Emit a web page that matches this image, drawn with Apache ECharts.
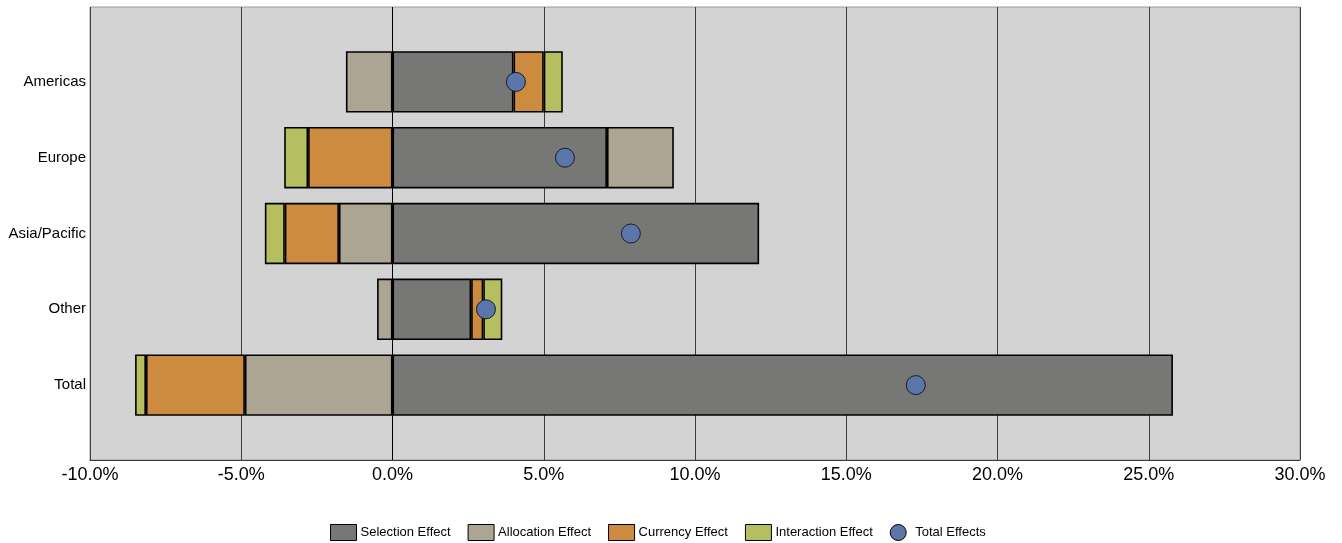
<!DOCTYPE html>
<html>
<head>
<meta charset="utf-8">
<script src="https://cdn.jsdelivr.net/npm/echarts@6/dist/echarts.min.js"></script>
<style>
  html, body { margin: 0; padding: 0; background: #ffffff; }
  #chart { width: 1342px; height: 543px; }
</style>
</head>
<body>
<div id="chart"></div>
<script>
// Attribution effects by region, in percent
const regions = ['Americas', 'Europe', 'Asia/Pacific', 'Other', 'Total'];
const selectionEffect   = [4.0, 7.09, 12.12, 2.6, 25.8];
const allocationEffect  = [-1.54, 2.21, -1.77, -0.51, -4.88];
const currencyEffect    = [1.0, -2.79, -1.79, 0.4, -3.27];
const interactionEffect = [0.63, -0.79, -0.66, 0.63, -0.36];
const totalEffects      = [4.08, 5.7, 7.88, 3.09, 17.3];
const xTicks = [-10, -5, 0, 5, 10, 15, 20, 25, 30];

const FONT = '"Liberation Sans", Arial, sans-serif';
const colors = {
  selection: '#777775',
  allocation: '#ada594',
  currency: '#cd8b40',
  interaction: '#b5bf5f',
  total: '#5b76a8'
};

function barSeries(name, data, color) {
  return {
    name: name,
    type: 'bar',
    stack: 'effects',
    xAxisIndex: 1,
    yAxisIndex: 1,
    barCategoryGap: '19%',
    data: data,
    itemStyle: { color: color, borderColor: '#000000', borderWidth: 1.6 },
    emphasis: { disabled: true }
  };
}

const chart = echarts.init(document.getElementById('chart'), null, { renderer: 'canvas' });
chart.setOption({
  animation: false,
  backgroundColor: '#ffffff',
  textStyle: { fontFamily: FONT },
  grid: [
    // plot frame with ticks and grid lines
    { left: 90, right: 42, top: 7, bottom: 83, show: true,
      backgroundColor: '#d3d3d3', borderColor: '#9a9a9a', borderWidth: 1 },
    // bars sit in a band inset from the frame
    { left: 90, right: 42, top: 44, bottom: 120 }
  ],
  xAxis: [
    {
      gridIndex: 0, type: 'value', min: xTicks[0], max: xTicks[xTicks.length - 1], interval: 5,
      axisLine: { show: true, onZero: false, lineStyle: { color: '#3a3a3a', width: 1 } },
      axisTick: { show: false },
      splitLine: { show: true, lineStyle: { color: '#3c3c3c', width: 1 } },
      axisLabel: {
        color: '#000000', fontSize: 18, fontFamily: FONT, margin: 6,
        formatter: v => v.toFixed(1) + '%'
      }
    },
    {
      gridIndex: 1, type: 'value', min: xTicks[0], max: xTicks[xTicks.length - 1], interval: 5,
      show: false
    }
  ],
  yAxis: [
    { gridIndex: 0, type: 'value', min: 0, max: 1, show: false },
    {
      gridIndex: 1, type: 'category', data: regions, inverse: true,
      axisLine: { show: false }, axisTick: { show: false },
      axisLabel: { color: '#000000', fontSize: 15, fontFamily: FONT, margin: 4 }
    }
  ],
  legend: {
    top: 519,
    left: 325,
    itemWidth: 26,
    itemHeight: 16,
    itemGap: 17,
    textStyle: { color: '#000000', fontSize: 13, fontFamily: FONT, padding: [0, 0, 0, -1] },
    data: [
      { name: 'Selection Effect', icon: 'rect', itemStyle: { borderColor: '#000', borderWidth: 1 } },
      { name: 'Allocation Effect', icon: 'rect', itemStyle: { borderColor: '#000', borderWidth: 1 } },
      { name: 'Currency Effect', icon: 'rect', itemStyle: { borderColor: '#000', borderWidth: 1 } },
      { name: 'Interaction Effect', icon: 'rect', itemStyle: { borderColor: '#000', borderWidth: 1 } },
      { name: 'Total Effects', icon: 'circle', itemStyle: { borderColor: '#000', borderWidth: 1 } }
    ]
  },
  series: [
    barSeries('Selection Effect', selectionEffect, colors.selection),
    barSeries('Allocation Effect', allocationEffect, colors.allocation),
    barSeries('Currency Effect', currencyEffect, colors.currency),
    barSeries('Interaction Effect', interactionEffect, colors.interaction),
    {
      // zero reference line
      type: 'line', xAxisIndex: 0, yAxisIndex: 0, silent: true, symbol: 'none',
      data: [], markLine: {
        silent: true, symbol: 'none', label: { show: false },
        lineStyle: { color: '#000000', width: 1, type: 'solid' },
        data: [{ xAxis: 0 }]
      }
    },
    {
      name: 'Total Effects',
      type: 'scatter',
      xAxisIndex: 1,
      yAxisIndex: 1,
      symbol: 'circle',
      symbolSize: 19,
      z: 5,
      data: totalEffects.map((v, i) => [v, regions[i]]),
      itemStyle: { color: colors.total, borderColor: '#1a1a2a', borderWidth: 1, opacity: 1 },
      emphasis: { disabled: true }
    }
  ]
});
</script>
</body>
</html>
